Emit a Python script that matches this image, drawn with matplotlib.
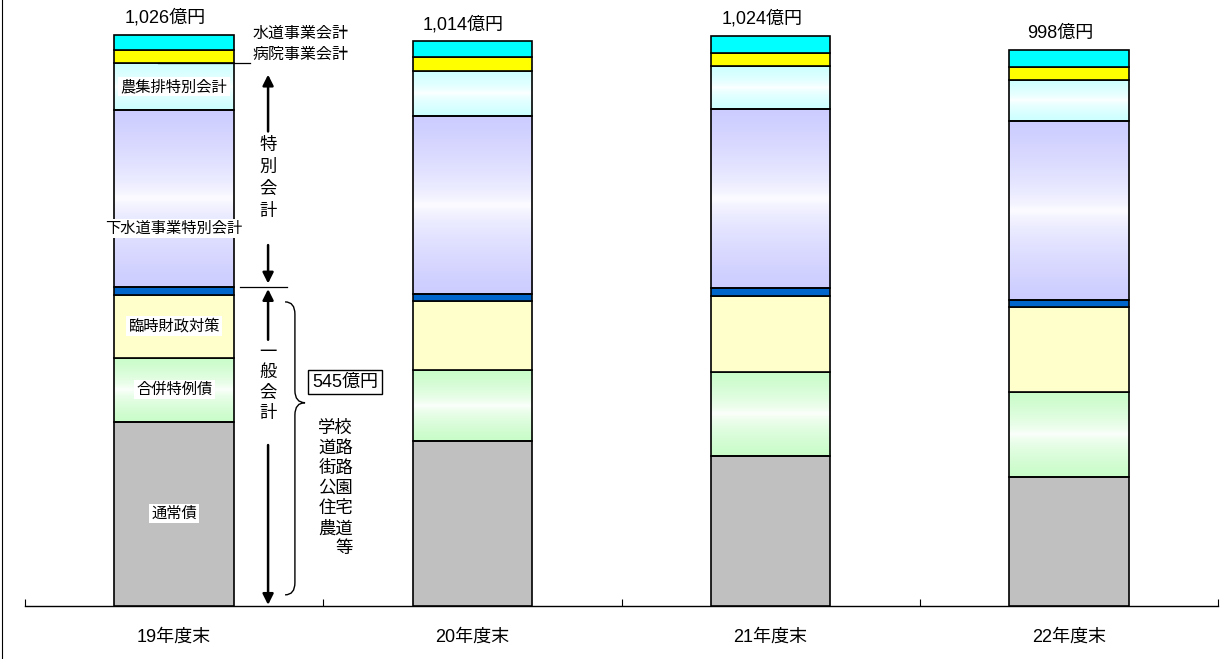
import numpy as np
import matplotlib
matplotlib.use('Agg')
import matplotlib.pyplot as plt
from matplotlib.path import Path
from matplotlib.patches import PathPatch
from matplotlib.lines import Line2D

plt.rcParams['font.family'] = ['Liberation Sans', 'Noto Sans CJK JP']

# 年度末ごとの市債残高（億円）
years = ['19年度末', '20年度末', '21年度末', '22年度末']
totals = [1026, 1014, 1024, 998]

tsujo = [331, 297, 269, 231]        # 通常債
gappei = [115, 126, 152, 154]       # 合併特例債
rinji = [113, 124, 136, 151]        # 臨時財政対策
sonota = [14, 14, 14, 14]           # その他特別会計
gesui = [318, 318, 321, 320]        # 下水道事業特別会計
noshu = [83, 81, 77, 74]            # 農集排特別会計
byoin = [25, 25, 23, 23]            # 病院事業会計
suido = [27, 29, 32, 31]            # 水道事業会計

general_label = '545億円'
uses = ['学校', '道路', '街路', '公園', '住宅', '農道', '等']

segments = [
    ('通常債', tsujo, '#c0c0c0', None),
    ('合併特例債', gappei, None, '#c8fcc8'),
    ('臨時財政対策', rinji, '#ffffcc', None),
    ('その他', sonota, '#0066cc', None),
    ('下水道事業特別会計', gesui, None, '#ccccff'),
    ('農集排特別会計', noshu, None, '#ccffff'),
    ('病院事業会計', byoin, '#ffff00', None),
    ('水道事業会計', suido, '#00ffff', None),
]

fig = plt.figure(figsize=(12.29, 6.59), dpi=100)
ax = fig.add_axes([25 / 1229, 53 / 659, 1193 / 1229, 606 / 659])

x = np.arange(len(years))
width = 0.4
bottom = np.zeros(len(years))


def gradient(col):
    t = np.linspace(0, 1, 64)
    w = np.abs(2 * t - 1) ** 0.6
    c = np.array(matplotlib.colors.to_rgb(col))
    img = 1 - (1 - c)[None, :] * w[:, None]
    return img[:, None, :]


seg_rects = {}
for name, vals, solid, grad in segments:
    bars = ax.bar(x, vals, width, bottom=bottom,
                  facecolor=solid if solid else 'none',
                  edgecolor='black', linewidth=1.2, zorder=3)
    if grad:
        img = gradient(grad)
        for b in bars:
            ax.imshow(img, extent=(b.get_x(), b.get_x() + b.get_width(),
                                   b.get_y(), b.get_y() + b.get_height()),
                      aspect='auto', zorder=2, interpolation='bilinear')
    seg_rects[name] = bars
    bottom = bottom + np.array(vals)

# 総額
for xi, t in zip(x, totals):
    ax.text(xi - 0.03, t + 14, f'{t:,}億円', ha='center', va='bottom',
            fontsize=13, zorder=5)

# 19年度末の内訳ラベル
lab_kw = dict(ha='center', va='center', fontsize=11, zorder=6,
              bbox=dict(boxstyle='square,pad=0.15', fc='white', ec='none'))
for name in ['通常債', '合併特例債', '臨時財政対策', '農集排特別会計']:
    b = seg_rects[name][0]
    ax.text(b.get_x() + b.get_width() / 2, b.get_y() + b.get_height() / 2,
            name, **lab_kw)
b = seg_rects['下水道事業特別会計'][0]
ax.text(b.get_x() + b.get_width() / 2, b.get_y() + b.get_height() * 0.33,
        '下水道事業特別会計', **lab_kw)

# 水道・病院
ax.text(0.262, 1029, '水道事業会計', ha='left', va='center', fontsize=11.5)
ax.text(0.262, 990, '病院事業会計', ha='left', va='center', fontsize=11.5)
yb = seg_rects['病院事業会計'][0].get_y()
ax.plot([-0.054, 0.254], [yb, yb], color='black', lw=0.9, zorder=6)

# 特別会計 / 一般会計 の矢印
gen_top = tsujo[0] + gappei[0] + rinji[0] + sonota[0]
ax_x = 0.315
arr = dict(arrowstyle='-|>', color='black', lw=1.8, mutation_scale=16,
           shrinkA=0, shrinkB=0)
ax.annotate('', xy=(ax_x, 954), xytext=(ax_x, 852), arrowprops=arr)
ax.annotate('', xy=(ax_x, gen_top + 6), xytext=(ax_x, 648), arrowprops=arr)
ax.annotate('', xy=(ax_x, gen_top - 4), xytext=(ax_x, 478), arrowprops=arr)
ax.annotate('', xy=(ax_x, 2), xytext=(ax_x, 289), arrowprops=arr)
ax.plot([0.221, 0.378], [gen_top, gen_top], color='black', lw=0.9)

for i, ch in enumerate('特別会計'):
    ax.text(ax_x, 828 - i * 39.5, ch, ha='center', va='center', fontsize=12.5)
for i, ch in enumerate('一般会計'):
    ax.text(ax_x, 456 - i * 36.5, ch, ha='center', va='center', fontsize=12.5)

# 中括弧
x0, x1, x2 = 0.372, 0.405, 0.439
yt, ytip, ybt = 546, 365, 20
r = 22
verts = [(x0, yt), (x1, yt), (x1, yt - r),
         (x1, ytip + r), (x1, ytip), (x2, ytip),
         (x1, ytip), (x1, ytip - r),
         (x1, ybt + r), (x1, ybt), (x0, ybt)]
codes = [Path.MOVETO, Path.CURVE3, Path.CURVE3,
         Path.LINETO, Path.CURVE3, Path.CURVE3,
         Path.CURVE3, Path.CURVE3,
         Path.LINETO, Path.CURVE3, Path.CURVE3]
ax.add_patch(PathPatch(Path(verts, codes), fc='none', ec='black', lw=1.0))

ax.text(0.573, 402, general_label, ha='center', va='center', fontsize=13,
        bbox=dict(boxstyle='square,pad=0.2', fc='white', ec='black', lw=1))

for i, u in enumerate(uses):
    ax.text(0.600, 320 - i * 36, u, ha='right', va='center', fontsize=12.5)

# 軸
ax.set_xlim(-0.5, len(years) - 0.5)
ax.set_ylim(0, 1088)
for s in ['left', 'top', 'right']:
    ax.spines[s].set_visible(False)
ax.spines['bottom'].set_linewidth(1.0)
ax.set_yticks([])
ax.set_xticks(x)
ax.set_xticklabels(years, fontsize=13)
ax.tick_params(axis='x', which='major', length=0, pad=16)
ax.set_xticks(np.arange(-0.5, len(years)), minor=True)
ax.tick_params(axis='x', which='minor', direction='in', length=5, width=0.8)

fig.add_artist(Line2D([1.5 / 1229, 1.5 / 1229], [0, 1], color='black',
                      lw=0.8, transform=fig.transFigure))

fig.savefig('out.png', dpi=100)
